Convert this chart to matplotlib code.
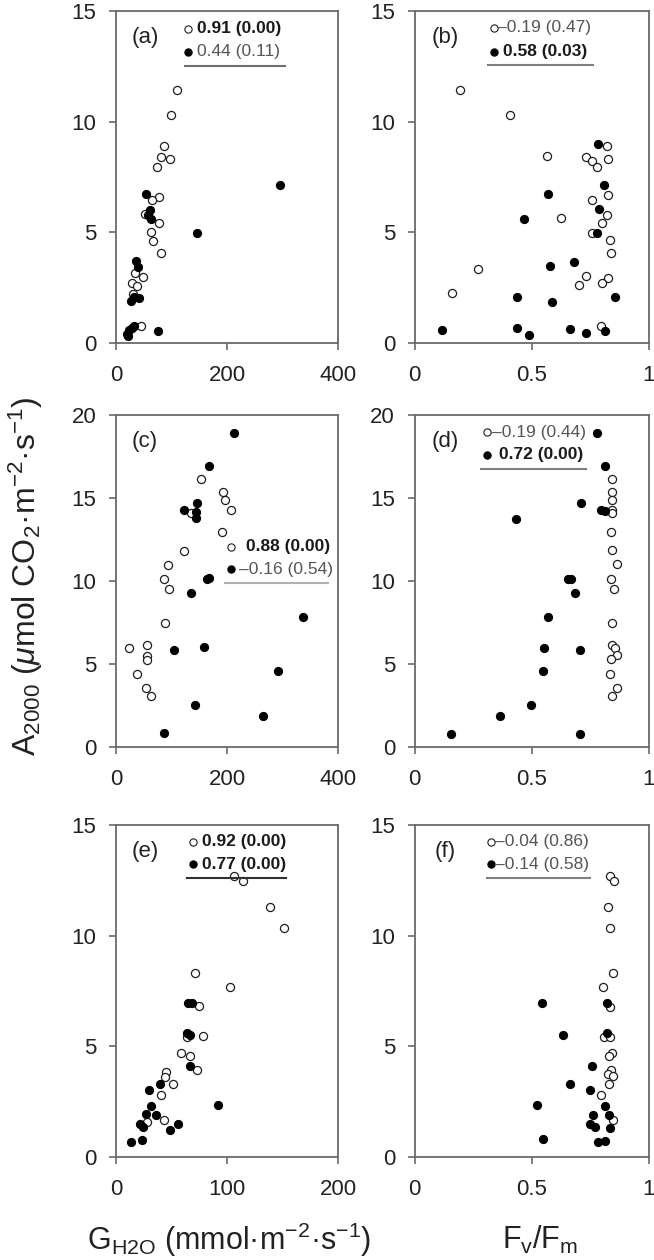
import matplotlib
matplotlib.use("Agg")
import matplotlib.pyplot as plt

plt.rcParams['font.family'] = ['Liberation Sans', 'DejaVu Sans']
plt.rcParams['mathtext.fontset'] = 'custom'
plt.rcParams['mathtext.rm'] = 'Liberation Sans'
plt.rcParams['mathtext.it'] = 'Liberation Sans:italic'
plt.rcParams['mathtext.bf'] = 'Liberation Sans:bold'

# ---------------- data ----------------
# (a) A2000 vs GH2O
a_open_x = [109.6, 98.8, 86.7, 81.3, 96.4, 73.5, 78.3, 64.5, 52.4, 77.7, 62.7, 67.5, 81.3, 28.3, 48.2, 37.3, 34.3, 45.2, 31.0]
a_open_y = [11.41, 10.32, 8.92, 8.41, 8.33, 7.96, 6.61, 6.46, 5.81, 5.41, 5.0, 4.62, 4.08, 2.73, 2.96, 2.58, 3.15, 0.75, 2.2]
a_fill_x = [295, 145.8, 53.6, 61.4, 63.3, 58.4, 36.1, 39.2, 26.5, 33, 42.2, 76.5, 19.3, 24.1, 28.3, 22, 32.5]
a_fill_y = [7.13, 4.95, 6.75, 6.0, 5.58, 5.78, 3.71, 3.45, 1.88, 2.1, 2.05, 0.56, 0.41, 0.57, 0.68, 0.33, 0.78]

# (b) A2000 vs Fv/Fm
b_open_x = [0.196, 0.159, 0.273, 0.409, 0.568, 0.628, 0.731, 0.76, 0.781, 0.821, 0.827, 0.76, 0.828, 0.824, 0.803, 0.76, 0.835, 0.838, 0.731, 0.703, 0.828, 0.803, 0.795]
b_open_y = [11.41, 2.28, 3.33, 10.32, 8.44, 5.66, 8.41, 8.21, 7.96, 8.9, 8.33, 6.46, 6.68, 5.78, 5.41, 4.98, 4.65, 4.08, 3.03, 2.63, 2.93, 2.73, 0.78]
b_fill_x = [0.786, 0.81, 0.788, 0.781, 0.571, 0.469, 0.58, 0.682, 0.44, 0.587, 0.855, 0.118, 0.44, 0.49, 0.665, 0.731, 0.812]
b_fill_y = [8.98, 7.13, 6.04, 4.98, 6.73, 5.6, 3.48, 3.68, 2.06, 1.85, 2.1, 0.6, 0.68, 0.38, 0.63, 0.45, 0.56]

# (c)
c_open_x = [24, 37.9, 54.1, 63.2, 55.9, 55.9, 55.9, 88.4, 86, 95, 94.4, 123.3, 135.3, 153.4, 192.5, 196.7, 207.5, 191.3]
c_open_y = [5.96, 4.41, 3.55, 3.05, 6.12, 5.46, 5.26, 7.46, 10.13, 9.53, 10.99, 11.82, 14.08, 16.15, 15.35, 14.88, 14.28, 12.98]
c_fill_x = [212.3, 168.4, 123.3, 146.2, 144.4, 144.4, 164.2, 168.4, 135.3, 105.3, 159.4, 143.2, 87.2, 264.7, 291.7, 336.8]
c_fill_y = [18.9, 16.93, 14.28, 14.68, 14.18, 13.78, 10.13, 10.17, 9.27, 5.82, 6.0, 2.51, 0.84, 1.89, 4.59, 7.82]

# (d)
d_open_x = [0.846, 0.843, 0.846, 0.843, 0.846, 0.839, 0.846, 0.867, 0.839, 0.853, 0.846, 0.846, 0.856, 0.865, 0.839, 0.836, 0.865, 0.846]
d_open_y = [16.15, 15.35, 14.88, 14.28, 14.08, 12.98, 11.84, 11.03, 10.13, 9.53, 7.46, 6.12, 5.96, 5.52, 5.3, 4.41, 3.55, 3.05]
d_fill_x = [0.781, 0.813, 0.712, 0.795, 0.814, 0.435, 0.658, 0.669, 0.687, 0.572, 0.553, 0.706, 0.548, 0.497, 0.367, 0.158, 0.709]
d_fill_y = [18.9, 16.93, 14.68, 14.28, 14.22, 13.76, 10.13, 10.13, 9.27, 7.82, 5.96, 5.82, 4.59, 2.51, 1.89, 0.8, 0.8]

# (e)
e_open_x = [106, 114.2, 138.3, 151.8, 70.8, 103, 74.4, 78.3, 63.9, 58.4, 66.3, 72.9, 45.2, 44.3, 51.8, 40.4, 42.8, 27.7]
e_open_y = [12.7, 12.47, 11.31, 10.36, 8.3, 7.7, 6.83, 5.46, 5.43, 4.68, 4.56, 3.93, 3.82, 3.62, 3.29, 2.82, 1.66, 1.58]
e_fill_x = [64.8, 68.4, 63.9, 66.9, 66.3, 91.6, 39.8, 29.8, 31.3, 26.8, 36.1, 21.7, 24.7, 48.8, 55.7, 13.6, 23.2]
e_fill_y = [6.98, 6.94, 5.61, 5.5, 4.12, 2.34, 3.32, 3.02, 2.31, 1.96, 1.89, 1.51, 1.36, 1.24, 1.48, 0.68, 0.79]

# (f)
f_open_x = [0.834, 0.852, 0.827, 0.837, 0.848, 0.806, 0.834, 0.81, 0.834, 0.844, 0.831, 0.838, 0.827, 0.848, 0.831, 0.798, 0.848]
f_open_y = [12.7, 12.47, 11.31, 10.36, 8.3, 7.7, 6.79, 5.4, 5.43, 4.72, 4.56, 3.93, 3.77, 3.65, 3.32, 2.82, 1.66]
f_fill_x = [0.547, 0.824, 0.636, 0.824, 0.759, 0.665, 0.75, 0.523, 0.815, 0.831, 0.761, 0.75, 0.771, 0.834, 0.548, 0.784, 0.812]
f_fill_y = [6.97, 6.98, 5.5, 5.61, 4.12, 3.32, 3.02, 2.34, 2.31, 1.92, 1.89, 1.51, 1.36, 1.33, 0.8, 0.68, 0.72]

panel_labels = ['(a)', '(b)', '(c)', '(d)', '(e)', '(f)']
stat_text = [
    ("0.91 (0.00)", "0.44 (0.11)"),
    ("–0.19 (0.47)", "0.58 (0.03)"),
    ("0.88 (0.00)", "–0.16 (0.54)"),
    ("–0.19 (0.44)", "0.72 (0.00)"),
    ("0.92 (0.00)", "0.77 (0.00)"),
    ("–0.04 (0.86)", "–0.14 (0.58)"),
]
stat_bold = [(True, False), (False, True), (True, False), (False, True), (True, True), (False, False)]

gs_ticks = [[0, 200, 400], [0, 200, 400], [0, 100, 200]]
fv_ticks = [0, 0.5, 1]
fv_ticklabels = ['0', '0.5', '1']
y_ticks = [[0, 5, 10, 15], [0, 5, 10, 15, 20], [0, 5, 10, 15]]

# ---------------- layout ----------------
W, H = 654, 1260
fig = plt.figure(figsize=(W / 100, H / 100), dpi=100)

col_px = [(116, 222), (414.5, 234)]
row_top_px = [11, 415, 825]
ax_h_px = 332

# legend layout per panel (axes fraction)
leg = [
    dict(mx=0.326, ry=(0.947, 0.878), tx=(0.366, 0.366), lx=(0.311, 0.761), ly=0.834, lc='#6e6e6e'),
    dict(mx=0.338, ry=(0.949, 0.878), tx=(0.352, 0.38), lx=(0.313, 0.762), ly=0.836, lc='#808080'),
    dict(mx=0.516, ry=(0.603, 0.535), tx=(0.586, 0.556), lx=(0.491, 0.956), ly=0.495, lc='#b0b0b0'),
    dict(mx=0.31, ry=(0.948, 0.88), tx=(0.332, 0.36), lx=(0.286, 0.734), ly=0.836, lc='#808080'),
    dict(mx=0.345, ry=(0.95, 0.882), tx=(0.387, 0.387), lx=(0.318, 0.764), ly=0.839, lc='#303030'),
    dict(mx=0.325, ry=(0.95, 0.882), tx=(0.342, 0.342), lx=(0.308, 0.749), ly=0.839, lc='#808080'),
]

open_data = [(a_open_x, a_open_y), (b_open_x, b_open_y), (c_open_x, c_open_y),
             (d_open_x, d_open_y), (e_open_x, e_open_y), (f_open_x, f_open_y)]
fill_data = [(a_fill_x, a_fill_y), (b_fill_x, b_fill_y), (c_fill_x, c_fill_y),
             (d_fill_x, d_fill_y), (e_fill_x, e_fill_y), (f_fill_x, f_fill_y)]

spine_c = '#6a6a6a'
txt_c = '#222222'
msize = 34

for i in range(6):
    r, c = divmod(i, 2)
    lp, wp = col_px[c]
    top = row_top_px[r]
    ax = fig.add_axes([lp / W, 1 - (top + ax_h_px) / H, wp / W, ax_h_px / H])
    ox, oy = open_data[i]
    fx, fy = fill_data[i]
    ax.scatter(ox, oy, s=msize, facecolor='white', edgecolor='#1e1e1e', linewidth=0.9, zorder=3, clip_on=False)
    ax.scatter(fx, fy, s=msize, facecolor='black', edgecolor='black', linewidth=0.8, zorder=4, clip_on=False)

    if c == 0:
        ax.set_xlim(0, gs_ticks[r][-1])
        ax.set_xticks(gs_ticks[r])
    else:
        ax.set_xlim(0, 1)
        ax.set_xticks(fv_ticks)
        ax.set_xticklabels(fv_ticklabels)
    ax.set_ylim(0, y_ticks[r][-1])
    ax.set_yticks(y_ticks[r])

    for s in ax.spines.values():
        s.set_color(spine_c)
        s.set_linewidth(1.3)
    ax.tick_params(direction='out', length=5, width=1.2, color=spine_c,
                   labelsize=16, labelcolor=txt_c)
    ax.tick_params(axis='y', pad=9)
    ax.tick_params(axis='x', pad=11)

    ax.text(0.13, 0.92, panel_labels[i], transform=ax.transAxes, fontsize=16,
            color=txt_c, ha='center', va='center')

    L = leg[i]
    for k in range(2):
        ax.scatter([L['mx']], [L['ry'][k]], s=msize * 0.8, transform=ax.transAxes,
                   facecolor='white' if k == 0 else 'black',
                   edgecolor='#1e1e1e' if k == 0 else 'black', linewidth=0.8, zorder=5, clip_on=False)
        bold = stat_bold[i][k]
        ax.text(L['tx'][k], L['ry'][k], stat_text[i][k], transform=ax.transAxes,
                fontsize=12.5, fontweight='bold' if bold else 'normal',
                color='#1a1a1a' if bold else '#555555', ha='left', va='center', zorder=6)
    ax.plot(L['lx'], [L['ly'], L['ly']], transform=ax.transAxes, color=L['lc'], lw=1.5, zorder=5)

fig.text(26 / W, 1 - 576 / H, r'A$_{2000}$ ($\mu$mol CO$_2$·m$^{-2}$·s$^{-1}$)',
         rotation=90, ha='center', va='center', fontsize=23, color=txt_c)
fig.text(229 / W, 1 - 1240 / H, r'G$_{\rm H2O}$ (mmol·m$^{-2}$·s$^{-1}$)',
         ha='center', va='center', fontsize=22, color=txt_c)
fig.text(540 / W, 1 - 1240 / H, r'F$_{\rm v}$/F$_{\rm m}$',
         ha='center', va='center', fontsize=22, color=txt_c)

fig.savefig('out.png', dpi=100, facecolor='white')
